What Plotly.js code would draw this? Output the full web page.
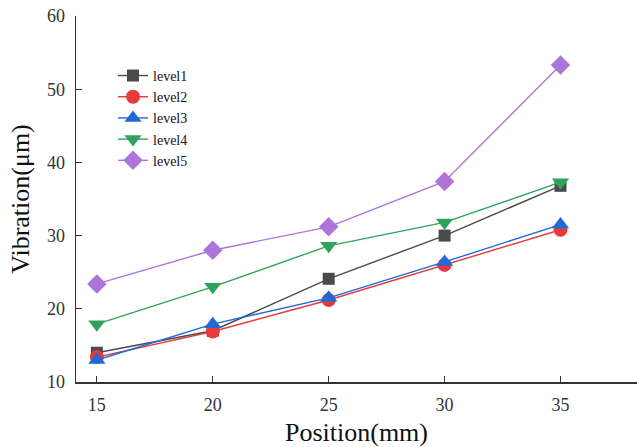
<!DOCTYPE html>
<html><head><meta charset="utf-8">
<script src="https://cdn.plot.ly/plotly-3.0.1.min.js"></script>
<style>html,body{margin:0;padding:0;background:#fff}#chart{width:637px;height:447px}</style>
</head><body><div id="chart"></div>
<script>
const positions = [15, 20, 25, 30, 35];
const level1 = [14.0, 17.0, 24.1, 30.0, 36.8];
const level2 = [13.4, 16.9, 21.2, 26.0, 30.8];
const level3 = [13.0, 17.9, 21.5, 26.4, 31.5];
const level4 = [17.9, 23.0, 28.6, 31.8, 37.3];
const level5 = [23.4, 28.0, 31.2, 37.4, 53.3];
const names = ['level1','level2','level3','level4','level5'];
const series = [level1, level2, level3, level4, level5];
const colors = ['#4a4a4a','#e8393b','#1f69dc','#2ea35e','#ad74da'];
const symbols = ['square','circle','triangle-up','triangle-down','diamond'];
const sizes = [12, 14, 15, 15, 15];

const traces = series.map((y, i) => ({
  x: positions, y: y, name: names[i], type: 'scatter', mode: 'lines+markers',
  line: {color: colors[i], width: 1.4},
  marker: {color: colors[i], symbol: symbols[i], size: sizes[i], line: {width: 0}}
}));

const layout = {
  width: 637, height: 447,
  margin: {l: 76, r: 0, t: 16, b: 65},
  paper_bgcolor: '#fff', plot_bgcolor: '#fff',
  font: {family: '"Liberation Serif", "Times New Roman", serif', color: '#222'},
  xaxis: {
    range: [14.1, 38.3], tickvals: positions, ticktext: positions.map(String),
    showgrid: false, zeroline: false, showline: true, linecolor: '#333', linewidth: 1.5,
    ticks: 'inside', ticklen: 6, tickcolor: '#333', tickwidth: 1.2,
    tickfont: {size: 18, color: '#333'}, ticklabelstandoff: 6,
    title: {text: 'Position(mm)', font: {size: 26, color: '#111'}, standoff: 8}
  },
  yaxis: {
    range: [10, 60], tickvals: [10,20,30,40,50,60],
    showgrid: false, zeroline: false, showline: true, linecolor: '#333', linewidth: 1.5,
    ticks: 'inside', ticklen: 6, tickcolor: '#333', tickwidth: 1.2,
    tickfont: {size: 18, color: '#333'}, ticklabelstandoff: 6,
    title: {text: 'Vibration(μm)', font: {size: 26, color: '#111'}, standoff: 10}
  },
  legend: {
    x: 0.066, y: 0.88, xanchor: 'left', yanchor: 'top',
    bgcolor: 'rgba(0,0,0,0)', font: {size: 14, color: '#111'},
    tracegroupgap: 0, itemwidth: 30
  },
  showlegend: true
};
Plotly.newPlot('chart', traces, layout, {displayModeBar: false, staticPlot: true});
</script></body></html>
